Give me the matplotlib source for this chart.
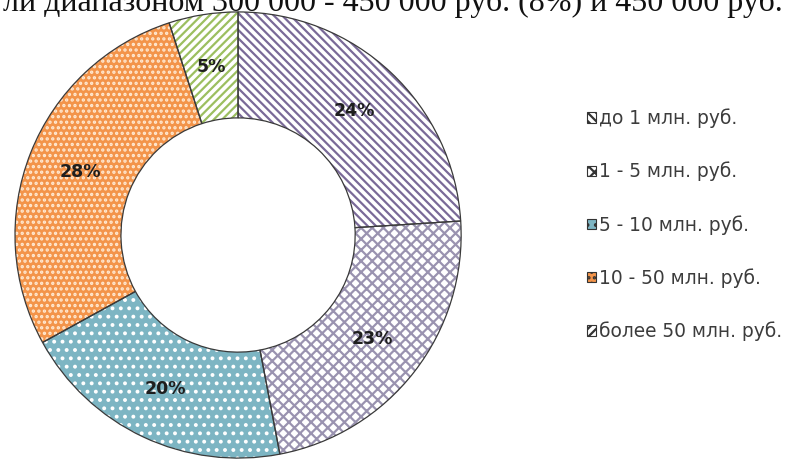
import matplotlib
matplotlib.use("Agg")
import matplotlib.pyplot as plt
from matplotlib.patches import Patch
import numpy as np

# data
labels = ["до 1 млн. руб.", "1 - 5 млн. руб.", "5 - 10 млн. руб.",
          "10 - 50 млн. руб.", "более 50 млн. руб."]
shares = [24, 23, 20, 28, 5]
face_colors = ["#ffffff", "#ffffff", "#7db5c3", "#f3944a", "#ffffff"]
hatch_colors = ["#7a6a98", "#9a93b0", "#ffffff", "#ffe9d2", "#9cbf60"]
hatches = ["\\\\\\\\", "xxx", "..", "...", "////"]
top_line = "ли диапазоном 300 000 - 450 000 руб. (8%) и 450 000 руб."

plt.rcParams["hatch.linewidth"] = 1.6

fig = plt.figure(figsize=(7.87, 4.59), dpi=100)
ax = fig.add_axes([0.019, 0.002, 0.567, 0.972])

# filled wedges with hatch (hatch takes edgecolor)
wedges, _ = ax.pie(shares, startangle=90, counterclock=False, radius=1,
                   colors=face_colors,
                   wedgeprops=dict(width=0.475, linewidth=0))
for w, hc, h in zip(wedges, hatch_colors, hatches):
    w.set_edgecolor(hc)
    w.set_hatch(h)

# outlines on top
ax.pie(shares, startangle=90, counterclock=False, radius=1,
       colors=["none"] * len(shares),
       wedgeprops=dict(width=0.475, linewidth=0.9, edgecolor="#3a3a3a"))

ax.set_xlim(-1, 1)
ax.set_ylim(-1, 1)
ax.set_aspect("equal")

# percentage labels in the middle of the ring
total = sum(shares)
start = 90.0
r_mid = 1 - 0.475 / 2
for s in shares:
    ang = np.deg2rad(start - s / total * 360 / 2)
    ax.text(r_mid * np.cos(ang), r_mid * np.sin(ang), f"{s}%",
            ha="center", va="center", fontsize=12.5, fontweight="bold",
            color="#1e1e1e")
    start -= s / total * 360

handles = [Patch(facecolor=fc, edgecolor="#333333", hatch=h, linewidth=0.8)
           for fc, h in zip(face_colors, hatches)]
fig.legend(handles, labels, loc="upper left", bbox_to_anchor=(0.724, 0.80),
           frameon=False, fontsize=13.4, labelcolor="#3c3c3c",
           handlelength=0.5, handleheight=0.5, handletextpad=0.15,
           labelspacing=1.8)

# line of document text above the chart, cut off at the top edge
fig.text(0.994, 1 - 11 / 459, top_line, ha="right", va="baseline",
         fontsize=23, family="Liberation Serif", color="#111111")

fig.savefig("out.png", dpi=100)
